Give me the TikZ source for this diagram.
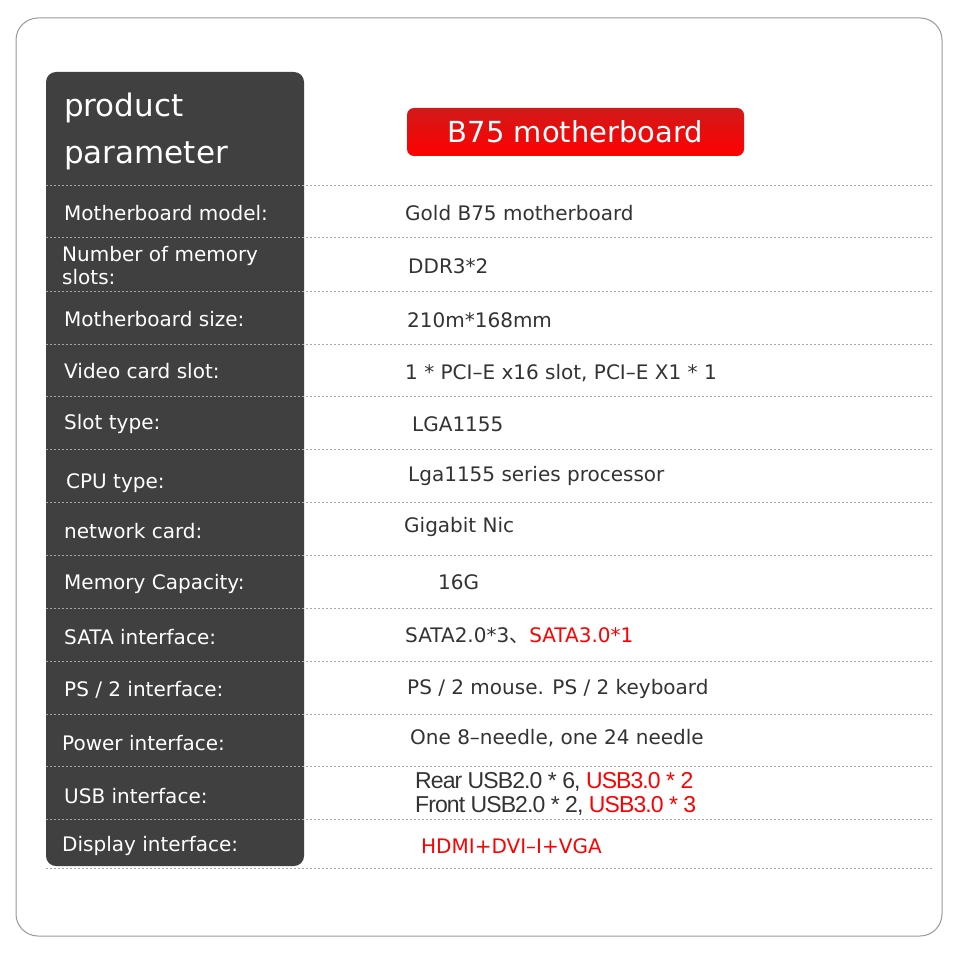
\documentclass[tikz,border=0pt]{standalone}
\usepackage{fontspec}
\setmainfont{DejaVu Sans}
\newfontfamily\libsans{Liberation Sans}
\newfontfamily\cjkf{Noto Sans CJK SC}
\definecolor{panel}{HTML}{404040}
\definecolor{txt}{HTML}{333333}
\definecolor{hl}{HTML}{FF0000}
\begin{document}
\begin{tikzpicture}[x=1pt,y=-1pt,
  lab/.style={anchor=west,text=white,font=\fontsize{20}{24}\selectfont,inner sep=0},
  val/.style={anchor=west,text=txt,font=\fontsize{20}{24}\selectfont,inner sep=0},
  sep/.style={draw=gray!70,dash pattern=on 2pt off 2pt,line width=0.8pt}]
\useasboundingbox (0,0) rectangle (960,976);
\fill[white] (0,0) rectangle (960,976);
\draw[gray!80,line width=1pt,rounded corners=22pt] (16,18) rectangle (942,936);
\fill[panel,rounded corners=10pt] (46,72) rectangle (304,866);
\node[anchor=north west,text=white,align=left,inner sep=0,font=\fontsize{31}{47}\selectfont] (hd) at (64,93) {product\\parameter};
\node[top color=red!80!black!90,bottom color=red,rounded corners=7pt,minimum width=337pt,minimum height=48pt,text=white,font=\fontsize{29}{34}\selectfont,inner sep=0] (ttl) at (575.5,132) {B75 motherboard};
\foreach \y in {185,237,291,344,396,449,502,555,608,661,714,766,819,868}
  \draw[sep] (46,\y) -- (932,\y);
\node[lab] (l1) at (64,213) {Motherboard model:};
\node[lab,align=left,font=\fontsize{20}{23}\selectfont] (l2) at (62,266) {Number of memory\\slots:};
\node[lab] (l3) at (64,319) {Motherboard size:};
\node[lab] (l4) at (64,371) {Video card slot:};
\node[lab] (l5) at (64,424) {Slot type:};
\node[lab] (l6) at (66,483) {CPU type:};
\node[lab] (l7) at (64,531) {network card:};
\node[lab] (l8) at (64,584) {Memory Capacity:};
\node[lab] (l9) at (64,637) {SATA interface:};
\node[lab] (l10) at (64,690) {PS / 2 interface:};
\node[lab] (l11) at (62,743) {Power interface:};
\node[lab] (l12) at (64,796) {USB interface:};
\node[lab] (l13) at (62,846) {Display interface:};
\node[val] (v1) at (405,213) {Gold B75 motherboard};
\node[val] (v2) at (408,266) {DDR3*2};
\node[val] (v3) at (407,320) {210m*168mm};
\node[val] (v4) at (405,373) {1 * PCI–E x16 slot, PCI–E X1 * 1};
\node[val] (v5) at (412,424) {LGA1155};
\node[val] (v6) at (408,476) {Lga1155 series processor};
\node[val] (v7) at (404,527) {Gigabit Nic};
\node[val] (v8) at (438,582) {16G};
\node[val] (v9) at (405,636) {SATA2.0*3{\cjkf 、}\textcolor{hl}{SATA3.0*1}};
\node[val] (v10) at (407,689) {PS / 2 mouse. PS / 2 keyboard};
\node[val,align=left,font=\libsans\fontsize{23}{24}\selectfont\addfontfeatures{LetterSpace=-4}] (v12) at (415,794) {Rear USB2.0 * 6, \textcolor{hl}{USB3.0 * 2}\\Front USB2.0 * 2, \textcolor{hl}{USB3.0 * 3}};
\node[val] (v11) at (410,738) {One 8–needle, one 24 needle};
\node[val,text=hl] (v13) at (421,846) {HDMI+DVI–I+VGA};
\end{tikzpicture}
\end{document}
